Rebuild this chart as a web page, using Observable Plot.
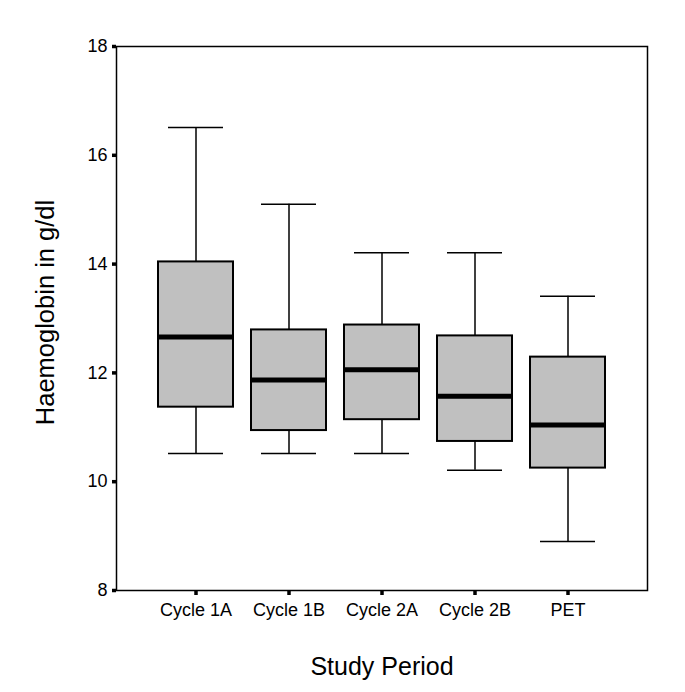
<!DOCTYPE html>
<html>
<head>
<meta charset="utf-8">
<script src="https://cdn.jsdelivr.net/npm/d3@7"></script>
<script src="https://cdn.jsdelivr.net/npm/@observablehq/plot@0.6"></script>
<style>
  html, body { margin: 0; padding: 0; background: #ffffff; }
  #chart svg { display: block; }
</style>
</head>
<body>
<div id="chart"></div>
<script>
const categories = ["Cycle 1A", "Cycle 1B", "Cycle 2A", "Cycle 2B", "PET"];
const whiskerLow  = [10.52, 10.52, 10.52, 10.21, 8.90];
const q1          = [11.37, 10.94, 11.14, 10.74, 10.25];
const median      = [12.66, 11.87, 12.06, 11.57, 11.04];
const q3          = [14.04, 12.79, 12.88, 12.68, 12.29];
const whiskerHigh = [16.51, 15.10, 14.21, 14.21, 13.41];
const yTicks = [8, 10, 12, 14, 16, 18];

const rows = categories.map((c, i) => ({
  cat: c, lo: whiskerLow[i], q1: q1[i], med: median[i], q3: q3[i], hi: whiskerHigh[i]
}));

const font = "'Liberation Sans', Arial, Helvetica, sans-serif";

const chart = Plot.plot({
  width: 685,
  height: 692,
  marginLeft: 116,
  marginRight: 38,
  marginTop: 46,
  marginBottom: 102,
  style: { fontFamily: font, background: "#ffffff", color: "#000000" },
  x: { type: "band", domain: categories, paddingInner: 0.19, paddingOuter: 0.43 },
  y: { domain: [8, 18] },
  marks: [
    Plot.frame({ stroke: "#000", strokeWidth: 1.5 }),
    Plot.ruleX(rows, { x: "cat", y1: "lo", y2: "hi", stroke: "#000", strokeWidth: 1.5 }),
    Plot.tickY(rows, { x: "cat", y: "lo", stroke: "#000", strokeWidth: 1.5, insetLeft: 10, insetRight: 10 }),
    Plot.tickY(rows, { x: "cat", y: "hi", stroke: "#000", strokeWidth: 1.5, insetLeft: 10, insetRight: 10 }),
    Plot.barY(rows, { x: "cat", y1: "q1", y2: "q3", fill: "#c0c0c0", stroke: "#000", strokeWidth: 2 }),
    Plot.tickY(rows, { x: "cat", y: "med", stroke: "#000", strokeWidth: 5 }),
    Plot.axisY({ ticks: yTicks, tickFormat: d => String(d), tickSize: 4, tickPadding: 5, strokeWidth: 3.5, strokeOpacity: 1, fontSize: 18, label: null }),
    Plot.axisX({ tickSize: 5, tickPadding: 8, strokeWidth: 3.5, strokeOpacity: 1, fontSize: 18, label: null, style: "letter-spacing:0.7px" }),
    Plot.text(["Haemoglobin in g/dl"], { frameAnchor: "left", dx: -71, dy: -6, rotate: -90, fontSize: 25.5, lineAnchor: "middle", textAnchor: "middle", fill: "#000" }),
    Plot.text(["Study Period"], { frameAnchor: "bottom", dy: 76, fontSize: 25, lineAnchor: "middle", textAnchor: "middle", fill: "#000" })
  ]
});
document.getElementById("chart").appendChild(chart);
</script>
</body>
</html>
